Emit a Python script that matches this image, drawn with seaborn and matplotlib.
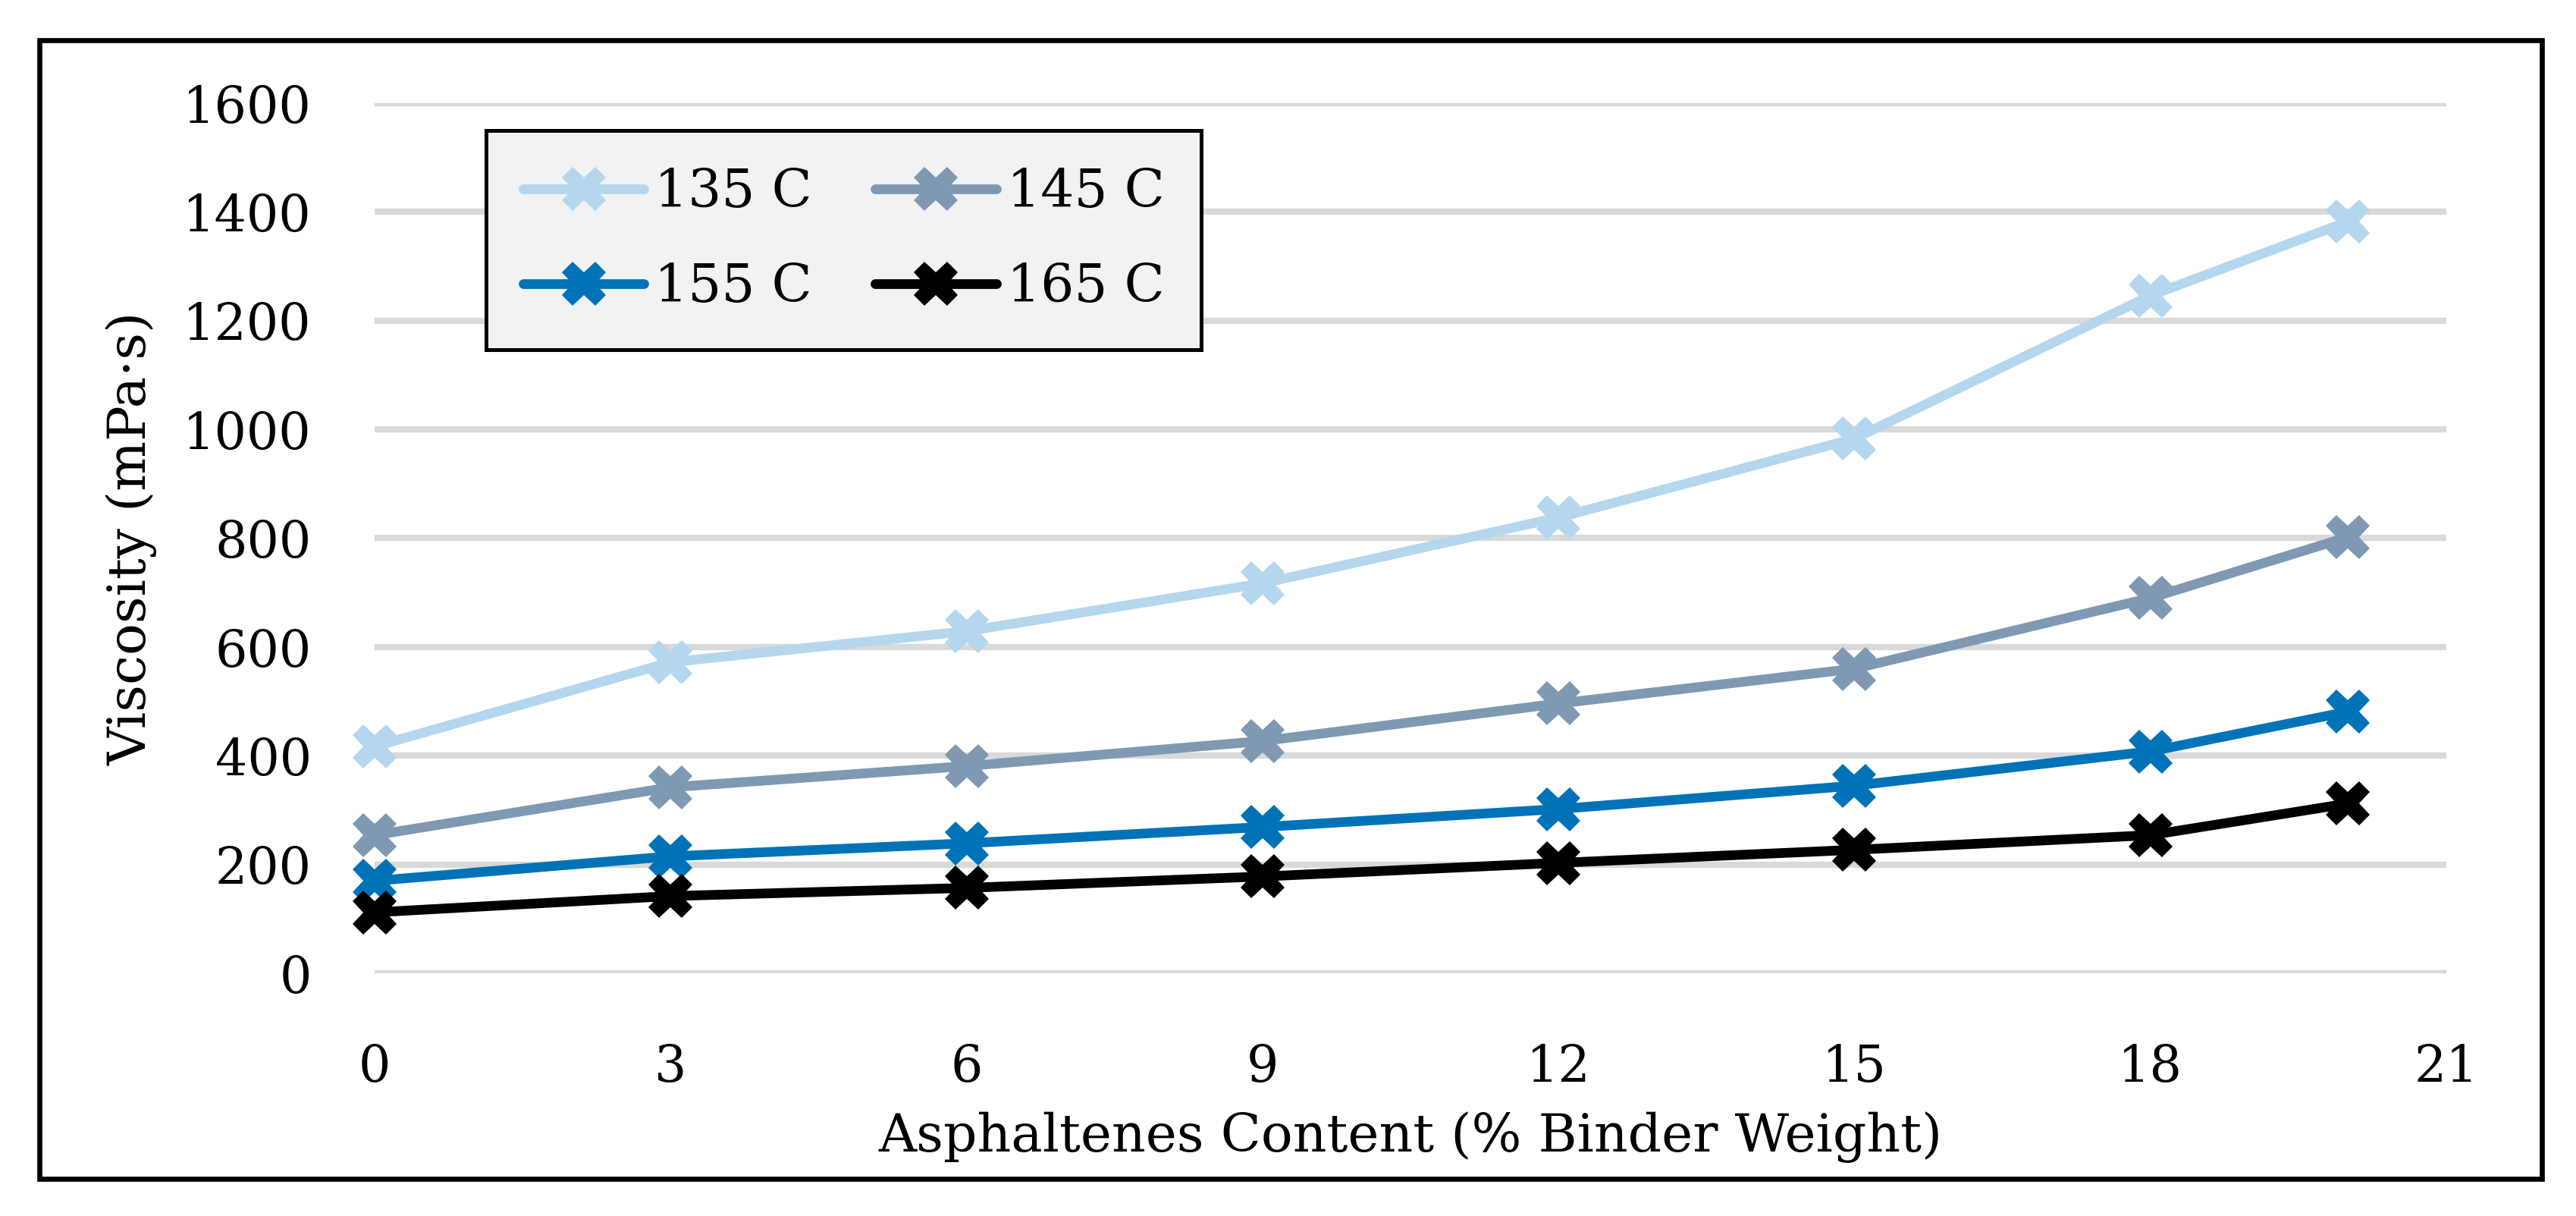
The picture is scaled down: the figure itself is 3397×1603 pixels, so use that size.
"""Viscosity vs asphaltenes content line chart."""

import matplotlib

matplotlib.use("Agg")

import matplotlib.pyplot as plt
import pandas as pd
import seaborn as sns
from matplotlib.patches import Rectangle

asphaltenes = [0, 3, 6, 9, 12, 15, 18, 20]
visc_135 = [417, 572, 629, 717, 838, 983, 1246, 1382]
visc_145 = [254, 342, 381, 427, 496, 560, 690, 802]
visc_155 = [170, 215, 239, 269, 302, 345, 408, 481]
visc_165 = [112, 142, 157, 178, 203, 227, 254, 312]
series_labels = ["135 C", "145 C", "155 C", "165 C"]
series_colors = ["#B4D7EE", "#7F99B3", "#0073B8", "#000000"]
x_ticks = [0, 3, 6, 9, 12, 15, 18, 21]
y_ticks = [0, 200, 400, 600, 800, 1000, 1200, 1400, 1600]

frame = pd.DataFrame(
    {
        "asphaltenes": asphaltenes * 4,
        "viscosity": visc_135 + visc_145 + visc_155 + visc_165,
        "temperature": [lab for lab in series_labels for _ in asphaltenes],
    }
)

sns.set_theme(style="white")
plt.rcParams["font.family"] = ["DejaVu Serif"]
plt.rcParams["text.color"] = "black"
plt.rcParams["axes.labelcolor"] = "black"

fig = plt.figure(figsize=(16.99, 8.015), dpi=200)
ax = fig.add_axes([0.1454, 0.1996, 0.804, 0.7156])

sns.lineplot(
    data=frame,
    x="asphaltenes",
    y="viscosity",
    hue="temperature",
    hue_order=series_labels,
    palette=dict(zip(series_labels, series_colors)),
    marker="X",
    markersize=21,
    markeredgewidth=0,
    linewidth=4.6,
    clip_on=False,
    ax=ax,
)

ax.set_xlim(0, 21)
ax.set_ylim(0, 1600)
ax.set_xticks(x_ticks)
ax.set_yticks(y_ticks)
ax.yaxis.grid(True, color="#D9D9D9", linewidth=3.0)
ax.set_axisbelow(True)
for spine in ax.spines.values():
    spine.set_visible(False)
ax.tick_params(axis="both", length=0, labelsize=24, colors="black")
ax.tick_params(axis="x", pad=33)
ax.tick_params(axis="y", pad=30)
ax.set_xlabel("Asphaltenes Content (% Binder Weight)", fontsize=25, labelpad=9)
ax.set_ylabel("Viscosity (mPa·s)", fontsize=25, labelpad=12)

# legend reads row by row: 135/145 on top, 155/165 below
handles, labels = ax.get_legend_handles_labels()
order = [0, 2, 1, 3]
leg = ax.legend(
    [handles[i] for i in order],
    [labels[i] for i in order],
    loc="upper left",
    bbox_to_anchor=(0.0538, 0.9686),
    borderaxespad=0,
    ncol=2,
    fontsize=25,
    frameon=True,
    fancybox=False,
    facecolor="#F2F2F2",
    edgecolor="black",
    framealpha=1,
    handlelength=2.3,
    handletextpad=0.2,
    columnspacing=1.2,
    labelspacing=0.85,
    borderpad=0.7,
)
leg.get_frame().set_linewidth(1.8)

fig.patches.append(
    Rectangle(
        (52 / 3398, 1 - 1554 / 1603),
        (3352 - 52) / 3398,
        (1554 - 53) / 1603,
        transform=fig.transFigure,
        fill=False,
        edgecolor="black",
        linewidth=2.4,
    )
)

fig.savefig("out.png", dpi=200)
plt.close(fig)
